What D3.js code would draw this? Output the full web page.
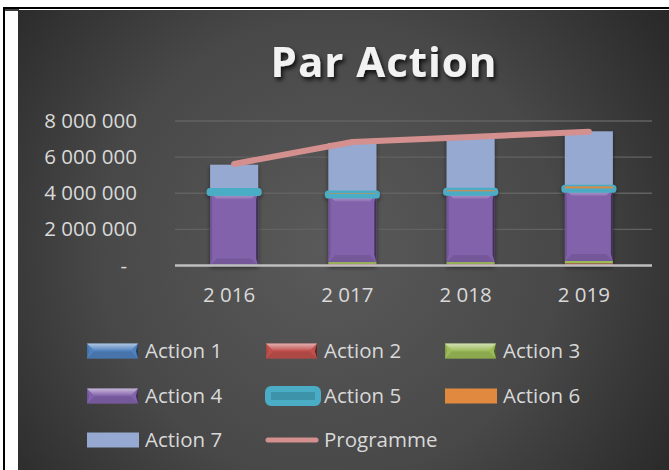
<!DOCTYPE html>
<html>
<head>
<meta charset="utf-8">
<script src="https://cdn.jsdelivr.net/npm/d3@7"></script>
<style>
  html, body { margin: 0; padding: 0; background: #fff; }
  svg { display: block; }
  text { font-family: "Open Sans", "Noto Sans", sans-serif; }
</style>
</head>
<body>
<div id="chart-container"></div>
<script>
'use strict'

// data
var years = [2016, 2017, 2018, 2019]
var action1 = [0, 20000, 20000, 30000]
var action2 = [0, 70000, 70000, 90000]
var action3 = [0, 100000, 100000, 130000]
var action4 = [4050000, 3730000, 3880000, 3980000]
var action5 = [40000, 40000, 40000, 40000]
var action6 = [0, 30000, 60000, 110000]
var action7 = [1490000, 2800000, 2870000, 3050000]
var programme = [5620000, 6840000, 7120000, 7400000]
var yTicks = [0, 2000000, 4000000, 6000000, 8000000]
var seriesNames = ['Action 1', 'Action 2', 'Action 3', 'Action 4', 'Action 5', 'Action 6', 'Action 7', 'Programme']

var seriesValues = [action1, action2, action3, action4, action5, action6, action7]
var colors = ['#4f81bd', '#c0504d', '#9bbb59', '#8262ab', '#4bacc6', '#e0893f', '#95a9d1', '#d4908e']

var fr = d3.formatLocale({ decimal: ',', thousands: ' ', grouping: [3], currency: ['', ''] })
var fmt = fr.format(',')

var W = 669, H = 470

var svg = d3.select('#chart-container').append('svg')
    .attr('width', W).attr('height', H)

var defs = svg.append('defs')

var bg = defs.append('radialGradient').attr('id', 'bgGrad')
    .attr('gradientUnits', 'userSpaceOnUse')
    .attr('cx', 330).attr('cy', 250).attr('r', 420)
bg.append('stop').attr('offset', '0%').attr('stop-color', '#5a5a5a')
bg.append('stop').attr('offset', '55%').attr('stop-color', '#484848')
bg.append('stop').attr('offset', '100%').attr('stop-color', '#272727')

var sh = defs.append('filter').attr('id', 'barShadow')
    .attr('x', '-30%').attr('y', '-30%').attr('width', '160%').attr('height', '160%')
sh.append('feDropShadow').attr('dx', 0).attr('dy', 2).attr('stdDeviation', 2)
    .attr('flood-color', '#000').attr('flood-opacity', 0.5)

var tsh = defs.append('filter').attr('id', 'titleShadow')
    .attr('x', '-20%').attr('y', '-30%').attr('width', '140%').attr('height', '160%')
tsh.append('feDropShadow').attr('dx', 2).attr('dy', 3).attr('stdDeviation', 2)
    .attr('flood-color', '#000').attr('flood-opacity', 0.8)

var topGlow = defs.append('linearGradient').attr('id', 'topGlow')
    .attr('x1', 0).attr('y1', 0).attr('x2', 0).attr('y2', 1)
topGlow.append('stop').attr('offset', '0%').attr('stop-color', '#fff').attr('stop-opacity', 0.55)
topGlow.append('stop').attr('offset', '100%').attr('stop-color', '#fff').attr('stop-opacity', 0.05)

// page frame
svg.append('line').attr('x1', 4).attr('x2', 4).attr('y1', 7).attr('y2', H)
    .attr('stroke', '#000').attr('stroke-width', 2)
svg.append('line').attr('x1', 3).attr('x2', W).attr('y1', 8).attr('y2', 8)
    .attr('stroke', '#000').attr('stroke-width', 2)
svg.append('line').attr('x1', 4).attr('x2', 19).attr('y1', 10).attr('y2', 10)
    .attr('stroke', '#000').attr('stroke-width', 1.5)

// chart area
svg.append('rect').attr('x', 18).attr('y', 10).attr('width', W - 18).attr('height', H - 10)
    .attr('fill', 'url(#bgGrad)')

svg.append('text')
    .attr('x', 384).attr('y', 77)
    .attr('text-anchor', 'middle')
    .attr('font-size', 42).attr('font-weight', 'bold')
    .attr('letter-spacing', 1)
    .attr('fill', '#f2f2f2')
    .attr('filter', 'url(#titleShadow)')
    .text('Par Action')

var x = d3.scaleBand().domain(years).range([175, 648])
    .paddingInner(0.594).paddingOuter(0.297)
var y = d3.scaleLinear().domain([0, 8000000]).range([265.5, 121])

// gridlines
svg.append('g').selectAll('line').data(yTicks.slice(1)).enter().append('line')
    .attr('x1', 175).attr('x2', 652)
    .attr('y1', d => y(d)).attr('y2', d => y(d))
    .attr('stroke', '#626262').attr('stroke-width', 1.3)

// y axis labels
var yAxis = d3.axisLeft(y).tickValues(yTicks).tickSize(0).tickPadding(0)
    .tickFormat(d => d === 0 ? '-' : fmt(d))
var yg = svg.append('g').attr('transform', 'translate(137,0)').call(yAxis)
yg.select('.domain').remove()
yg.selectAll('text')
    .attr('font-family', '"Open Sans", sans-serif')
    .attr('font-size', 20.5).attr('fill', '#d9d9d9')
    .attr('dx', d => d === 0 ? -10 : 0)

// x axis labels
var xAxis = d3.axisBottom(x).tickSize(0).tickPadding(0).tickFormat(d => fmt(d))
var xg = svg.append('g').attr('transform', 'translate(-5,287)').call(xAxis)
xg.select('.domain').remove()
xg.selectAll('text')
    .attr('font-family', '"Open Sans", sans-serif')
    .attr('font-size', 20.5).attr('fill', '#d9d9d9')

// bevelled rectangle, like the Office 3D bars
var bevel = function(g, bx, by, bw, bh, c) {
    var base = d3.color(c)
    g.append('rect').attr('x', bx).attr('y', by).attr('width', bw).attr('height', bh)
        .attr('fill', base.formatHex())
    if (bh < 3) return
    var b = Math.min(7, bh / 2, bw / 4)
    g.append('polygon')
        .attr('points', [[bx, by], [bx + bw, by], [bx + bw - b, by + b], [bx + b, by + b]].join(' '))
        .attr('fill', 'url(#topGlow)')
    g.append('polygon')
        .attr('points', [[bx, by + bh], [bx + bw, by + bh], [bx + bw - b, by + bh - b], [bx + b, by + bh - b]].join(' '))
        .attr('fill', base.darker(0.5).formatHex()).attr('opacity', 0.6)
    g.append('polygon')
        .attr('points', [[bx + bw, by], [bx + bw, by + bh], [bx + bw - 2, by + bh - b], [bx + bw - 2, by + b]].join(' '))
        .attr('fill', base.darker(2).formatHex())
    g.append('polygon')
        .attr('points', [[bx, by], [bx, by + bh], [bx + 2, by + bh - b], [bx + 2, by + b]].join(' '))
        .attr('fill', base.darker(0.6).formatHex()).attr('opacity', 0.7)
}

// stacks
var stack = years.map((yr, i) => {
    var acc = 0
    return seriesValues.map(s => {
        var lo = acc
        acc += s[i]
        return { year: yr, lo: lo, hi: acc }
    })
})

var bars = svg.append('g').attr('filter', 'url(#barShadow)')
var order = [0, 1, 2, 3, 6, 4, 5]
order.forEach(k => {
    years.forEach((yr, i) => {
        var seg = stack[i][k]
        if (seg.hi - seg.lo <= 0) return
        var bx = x(yr), bw = x.bandwidth()
        var by = y(seg.hi), bh = y(seg.lo) - y(seg.hi)
        if (k < 4) {
            bevel(bars, bx, by, bw, bh, colors[k])
        } else if (k === 4) {
            bars.append('rect').attr('x', bx).attr('y', by).attr('width', bw).attr('height', Math.max(bh, 1))
                .attr('fill', '#3d93a9').attr('stroke', colors[4]).attr('stroke-width', 7)
                .attr('stroke-linejoin', 'round')
        } else {
            bars.append('rect').attr('x', bx).attr('y', by).attr('width', bw).attr('height', bh)
                .attr('fill', colors[k])
        }
    })
})

// category axis line
svg.append('line').attr('x1', 175).attr('x2', 652).attr('y1', 265.5).attr('y2', 265.5)
    .attr('stroke', '#bfbfbf').attr('stroke-width', 2.5)

// programme line
var line = d3.line().x((d, i) => x(years[i]) + x.bandwidth() / 2).y(d => y(d))
svg.append('path').datum(programme)
    .attr('d', line)
    .attr('fill', 'none').attr('stroke', colors[7]).attr('stroke-width', 6)
    .attr('stroke-linecap', 'round').attr('stroke-linejoin', 'round')

// legend
var legCols = [87, 266, 445]
var legRows = [351, 396, 440]
var leg = svg.append('g')
seriesNames.forEach((name, i) => {
    var lx = legCols[i % 3], ly = legRows[Math.floor(i / 3)]
    var g = leg.append('g')
    if (i < 4) {
        bevel(g, lx, ly - 7.5, 51, 15, colors[i])
    } else if (i === 4) {
        g.append('rect').attr('x', lx + 2).attr('y', ly - 7).attr('width', 50).attr('height', 14)
            .attr('rx', 3).attr('fill', '#3d93a9').attr('stroke', colors[4]).attr('stroke-width', 6)
            .attr('stroke-linejoin', 'round')
    } else if (i < 7) {
        g.append('rect').attr('x', lx).attr('y', ly - 7.5).attr('width', 52).attr('height', 15)
            .attr('fill', colors[i])
    } else {
        g.append('line').attr('x1', lx + 2).attr('x2', lx + 50).attr('y1', ly).attr('y2', ly)
            .attr('stroke', colors[7]).attr('stroke-width', 5).attr('stroke-linecap', 'round')
    }
    g.append('text').attr('x', lx + 58).attr('y', ly).attr('dy', '0.35em')
        .attr('font-size', 20.5).attr('fill', '#d9d9d9')
        .text(name)
})
</script>
</body>
</html>
